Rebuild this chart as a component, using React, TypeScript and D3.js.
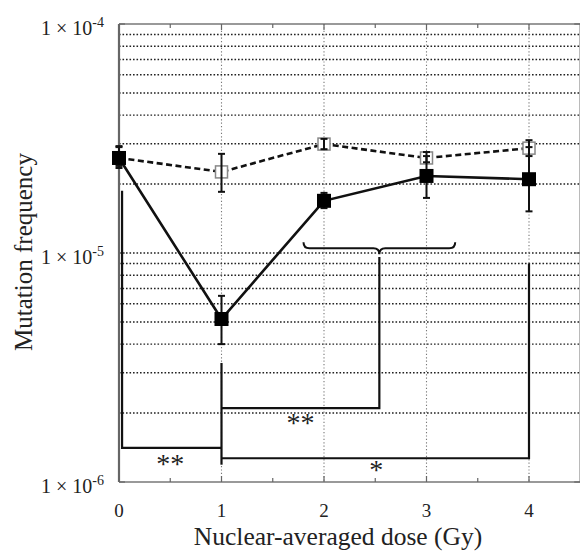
import { useEffect, useRef } from 'react'
import * as d3 from 'd3'

// dose points (Gy)
const doses = [0, 1, 2, 3, 4]
// filled squares, solid line
const filledMean = [2.6e-5, 5.15e-6, 1.69e-5, 2.17e-5, 2.1e-5]
const filledLo = [2.35e-5, 4.0e-6, 1.57e-5, 1.74e-5, 1.52e-5]
const filledHi = [2.9e-5, 6.5e-6, 1.83e-5, 2.65e-5, 2.9e-5]
// open squares, dashed line
const openMean = [2.6e-5, 2.26e-5, 2.99e-5, 2.6e-5, 2.87e-5]
const openLo = [2.4e-5, 1.85e-5, 2.84e-5, 2.49e-5, 2.65e-5]
const openHi = [2.93e-5, 2.71e-5, 3.15e-5, 2.76e-5, 3.11e-5]

const yTickExps = [-4, -5, -6]
const xTicks = [0, 1, 2, 3, 4]

// significance brackets, in data units [dose, frequency]
const brackets: [number, number][][] = [
  [[0.03, 1.87e-5], [0.03, 1.41e-6], [1, 1.41e-6]],
  [[1, 3.31e-6], [1, 1.19e-6]],
  [[1, 2.1e-6], [2.54, 2.1e-6], [2.54, 9.6e-6]],
  [[1, 1.27e-6], [4, 1.27e-6], [4, 9.0e-6]],
]
const brace = { x0: 1.8, x1: 3.28, xm: 2.54, y: 1.05e-5 }
const stars = [
  { x: 0.5, y: 1.1e-6, label: '**' },
  { x: 1.77, y: 1.65e-6, label: '**' },
  { x: 2.51, y: 1.03e-6, label: '*' },
]

const W = 580, H = 551
const FONT = '"Liberation Serif", "Times New Roman", serif'

export default function App() {
  const ref = useRef<SVGSVGElement>(null)

  useEffect(() => {
    document.body.style.margin = '0'
    const svg = d3.select(ref.current)
    svg.selectAll('*').remove()

    const x = d3.scaleLinear().domain([0, 4.5]).range([119, 580.25])
    const y = d3.scaleLog().domain([1e-6, 1e-4]).range([482, 24])
    const [x0, x1] = x.range()
    const [yb, yt] = y.range()

    const g = svg.append('g')

    // horizontal grid at every log step
    const gridVals: number[] = []
    for (let e = -6; e < -4; e++) for (let m = 1; m <= 9; m++) gridVals.push(m * Math.pow(10, e))
    g.selectAll('line.hg').data(gridVals.filter(v => v > 1e-6)).join('line')
      .attr('x1', x0).attr('x2', x1)
      .attr('y1', d => y(d)).attr('y2', d => y(d))
      .attr('stroke', '#222').attr('stroke-width', 1.4).attr('stroke-dasharray', '1.6,1.9')

    // vertical grid
    g.selectAll('line.vg').data(xTicks.filter(d => d > 0)).join('line')
      .attr('x1', d => x(d)).attr('x2', d => x(d))
      .attr('y1', yt).attr('y2', yb)
      .attr('stroke', '#777').attr('stroke-width', 1.1).attr('stroke-dasharray', '1.2,2.2')

    // frame
    g.append('line').attr('x1', x0).attr('x2', x1).attr('y1', yt).attr('y2', yt).attr('stroke', '#777').attr('stroke-width', 1.5)
    g.append('line').attr('x1', x0).attr('x2', x1).attr('y1', yb).attr('y2', yb).attr('stroke', '#777').attr('stroke-width', 1.5)
    g.append('line').attr('x1', x0).attr('x2', x0).attr('y1', yt).attr('y2', yb).attr('stroke', '#666').attr('stroke-width', 2.2)
    g.append('line').attr('x1', x1).attr('x2', x1).attr('y1', yt).attr('y2', yb).attr('stroke', '#777').attr('stroke-width', 1.5)

    // x ticks (major + minor) top and bottom, pointing inward
    const minorX = d3.range(0.5, 4.5, 1)
    const xt = g.append('g').attr('stroke', '#666').attr('stroke-width', 1.2)
    xTicks.forEach(d => {
      xt.append('line').attr('x1', x(d)).attr('x2', x(d)).attr('y1', yb).attr('y2', yb - 6)
      xt.append('line').attr('x1', x(d)).attr('x2', x(d)).attr('y1', yt).attr('y2', yt + 6)
    })
    minorX.forEach(d => {
      xt.append('line').attr('x1', x(d)).attr('x2', x(d)).attr('y1', yb).attr('y2', yb - 4)
      xt.append('line').attr('x1', x(d)).attr('x2', x(d)).attr('y1', yt).attr('y2', yt + 4)
    })
    yTickExps.forEach(e => {
      const v = Math.pow(10, e)
      xt.append('line').attr('x1', x0).attr('x2', x0 + 6).attr('y1', y(v)).attr('y2', y(v))
      xt.append('line').attr('x1', x1).attr('x2', x1 - 6).attr('y1', y(v)).attr('y2', y(v))
    })

    // tick labels
    g.selectAll('text.xl').data(xTicks).join('text')
      .attr('x', d => x(d)).attr('y', 517)
      .attr('text-anchor', 'middle').attr('font-family', FONT).attr('font-size', '19px').attr('fill', '#222')
      .text(d => d)
    yTickExps.forEach(e => {
      const t = g.append('text')
        .attr('x', 104).attr('y', y(Math.pow(10, e)) + 11)
        .attr('text-anchor', 'end').attr('font-family', FONT).attr('fill', '#222')
        .style('font-size', '20px')
      t.append('tspan').style('font-size', '20px').text('1 \u00d7 10')
      t.append('tspan').attr('dy', -8).style('font-size', '14px').text(String(e))
    })

    // axis titles
    g.append('text').attr('x', 338).attr('y', 545).attr('text-anchor', 'middle')
      .attr('font-family', FONT).style('font-size', '25.5px').attr('fill', '#222')
      .text('Nuclear-averaged dose (Gy)')
    g.append('text').attr('transform', 'translate(32,252) rotate(-90)').attr('text-anchor', 'middle')
      .attr('font-family', FONT).style('font-size', '25px').attr('fill', '#222')
      .text('Mutation frequency')

    const line = d3.line<[number, number]>().x(d => x(d[0])).y(d => y(d[1]))
    const cap = 3.5

    // open series
    g.append('path').attr('d', line(doses.map((d, i) => [d, openMean[i]]))!)
      .attr('fill', 'none').attr('stroke', '#111').attr('stroke-width', 2.6).attr('stroke-dasharray', '6,3.5')
    const ms = 12
    g.selectAll('rect.open').data(doses).join('rect')
      .attr('x', d => x(d) - ms / 2).attr('y', (_, i) => y(openMean[i]) - ms / 2)
      .attr('width', ms).attr('height', ms)
      .attr('fill', '#fff').attr('stroke', '#888').attr('stroke-width', 1.5)
    const errs = (lo: number[], hi: number[]) => {
      const eg = g.append('g').attr('stroke', '#111').attr('stroke-width', 2)
      doses.forEach((d, i) => {
        eg.append('line').attr('x1', x(d)).attr('x2', x(d)).attr('y1', y(lo[i])).attr('y2', y(hi[i]))
        eg.append('line').attr('x1', x(d) - cap).attr('x2', x(d) + cap).attr('y1', y(lo[i])).attr('y2', y(lo[i]))
        eg.append('line').attr('x1', x(d) - cap).attr('x2', x(d) + cap).attr('y1', y(hi[i])).attr('y2', y(hi[i]))
      })
    }
    errs(openLo, openHi)

    // filled series
    g.append('path').attr('d', line(doses.map((d, i) => [d, filledMean[i]]))!)
      .attr('fill', 'none').attr('stroke', '#111').attr('stroke-width', 2.6)
    errs(filledLo, filledHi)
    const fs = 14
    g.selectAll('rect.filled').data(doses).join('rect')
      .attr('x', d => x(d) - fs / 2).attr('y', (_, i) => y(filledMean[i]) - fs / 2)
      .attr('width', fs).attr('height', fs).attr('fill', '#000')

    // significance brackets
    const bl = d3.line<[number, number]>().x(d => x(d[0])).y(d => y(d[1]))
    g.selectAll('path.br').data(brackets).join('path')
      .attr('d', d => bl(d)!).attr('fill', 'none').attr('stroke', '#111').attr('stroke-width', 2.2)

    const bx0 = x(brace.x0), bx1 = x(brace.x1), bxm = x(brace.xm), by = y(brace.y), r = 6
    const bp = d3.path()
    bp.moveTo(bx0, by - r)
    bp.quadraticCurveTo(bx0, by, bx0 + r, by)
    bp.lineTo(bxm - r, by)
    bp.quadraticCurveTo(bxm, by, bxm, by + r)
    bp.quadraticCurveTo(bxm, by, bxm + r, by)
    bp.lineTo(bx1 - r, by)
    bp.quadraticCurveTo(bx1, by, bx1, by - r)
    g.append('path').attr('d', bp.toString()).attr('fill', 'none').attr('stroke', '#111').attr('stroke-width', 2)

    g.selectAll('text.star').data(stars).join('text')
      .attr('x', d => x(d.x)).attr('y', d => y(d.y))
      .attr('text-anchor', 'middle').attr('font-family', FONT).style('font-size', '28px').attr('fill', '#222')
      .text(d => d.label)
  }, [])

  return <svg ref={ref} width={W} height={H} style={{ display: 'block', background: '#fff' }} />
}
